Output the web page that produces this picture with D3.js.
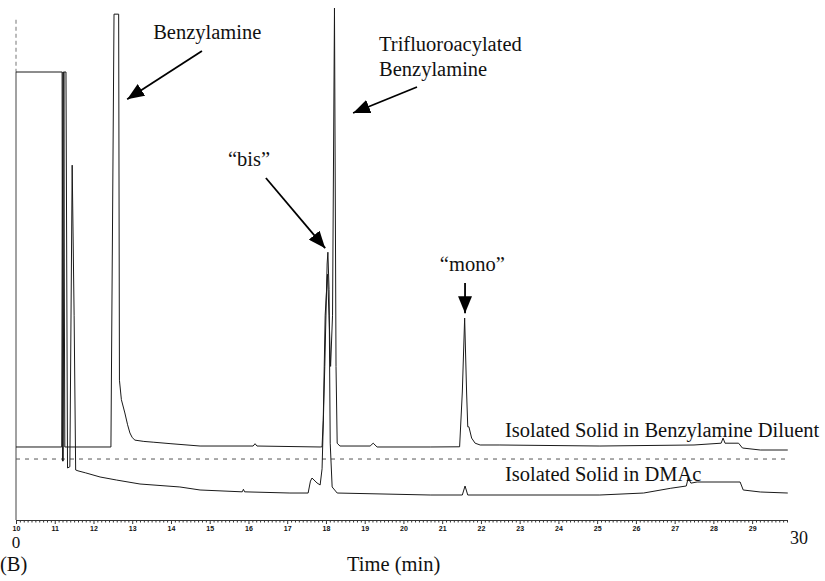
<!DOCTYPE html>
<html>
<head>
<meta charset="utf-8">
<script src="https://cdn.jsdelivr.net/npm/d3@7"></script>
<style>
  body { margin: 0; background: #fff; }
  svg { display: block; }
  .lbl { font-family: "Liberation Serif", "Times New Roman", serif; font-size: 20.5px; fill: #111; }
  .x.axis text { font-family: "Liberation Sans", Arial, sans-serif; font-size: 7px; font-weight: bold; fill: #111; }
  .x.axis path, .x.axis line { stroke: #333; }
  .trace { fill: none; stroke: #1a1a1a; stroke-width: 1; }
</style>
</head>
<body>
<svg width="825" height="581"></svg>
<script>
// tick labels (min)
var timeTicks = [10,11,12,13,14,15,16,17,18,19,20,21,22,23,24,25,26,27,28,29];

// Isolated Solid in Benzylamine Diluent
var diluentTime = [10.00,11.18,11.21,11.23,11.26,12.45,12.53,12.65,12.67,12.72,12.81,12.88,12.94,13.00,13.07,13.30,13.54,14.00,14.75,16.12,16.17,16.22,17.85,17.90,17.93,17.98,18.04,18.08,18.12,18.17,18.22,18.26,18.29,18.36,19.14,19.22,19.32,20.69,21.45,21.52,21.58,21.63,21.66,21.69,21.76,21.85,21.98,22.49,25.07,27.50,28.20,28.25,28.30,28.65,28.75,29.21,29.92];
var diluentSignal = [14.26,14.26,87.5,87.5,14.26,14.26,98.8,98.8,27.3,23.5,20.9,18.6,17.0,16.1,15.6,15.35,15.2,14.9,14.45,14.45,14.9,14.45,14.26,14.3,19.5,40.0,48.0,40.0,30.0,40.0,100,30.0,15.0,14.45,14.45,15.0,14.26,14.26,14.3,25.0,39.45,25.0,18.2,18.2,16.0,15.0,14.65,14.65,14.45,14.65,15.0,16.0,15.0,15.0,14.06,13.67,13.67];

// Isolated Solid in DMAc
var dmacTime = [10.00,11.19,11.20,11.22,11.24,11.29,11.33,11.39,11.45,11.50,11.54,11.60,11.80,12.17,12.60,13.20,14.23,14.75,15.84,15.87,15.90,17.07,17.54,17.60,17.64,17.77,17.85,17.90,17.97,18.03,18.05,18.08,18.11,18.16,18.29,20.69,21.52,21.59,21.66,25.07,26.20,26.90,27.30,27.35,27.42,27.58,28.69,28.77,29.21,29.92];
var dmacSignal = [87.5,87.5,11.52,11.52,87.5,87.5,10.16,10.4,69.3,40.0,9.77,9.6,9.2,8.4,7.8,7.03,6.45,5.86,5.5,6.0,5.5,5.27,5.27,7.6,8.2,7.23,6.84,10.0,30.0,50.0,52.3,45.0,15.0,6.45,5.27,4.88,4.88,6.64,4.88,4.88,5.27,6.2,6.64,8.2,7.2,7.42,7.42,5.86,5.47,5.27];

var svg = d3.select("svg");

var x = d3.scaleLinear().domain([10, 29.9]).range([16, 787]);
var y = d3.scaleLinear().domain([0, 100]).range([520, 8]);

var line = d3.line()
  .x(function(d){ return x(d[0]); })
  .y(function(d){ return y(d[1]); });

function pairs(t, v){ return t.map(function(d,i){ return [d, v[i]]; }); }

// arrow head
svg.append("defs").append("marker")
  .attr("id","head")
  .attr("markerUnits","userSpaceOnUse")
  .attr("markerWidth",18).attr("markerHeight",14)
  .attr("refX",17).attr("refY",7)
  .attr("orient","auto")
  .append("path")
  .attr("d","M0,0 L17,7 L0,14 Z")
  .attr("fill","#000");

// left vertical line (dashed at top)
svg.append("line")
  .attr("x1",x(10)).attr("x2",x(10))
  .attr("y1",y(97.7)).attr("y2",y(87.5))
  .attr("stroke","#777").attr("stroke-dasharray","4,3");
svg.append("line")
  .attr("x1",x(10)).attr("x2",x(10))
  .attr("y1",y(87.5)).attr("y2",y(0))
  .attr("stroke","#444");

// dashed reference line
svg.append("line")
  .attr("x1",x(10)).attr("x2",x(29.9))
  .attr("y1",y(11.91)).attr("y2",y(11.91))
  .attr("stroke","#555")
  .attr("stroke-dasharray","4,5");

// traces
svg.append("path").attr("class","trace")
  .attr("d", line(pairs(dmacTime, dmacSignal)));
svg.append("path").attr("class","trace")
  .attr("d", line(pairs(diluentTime, diluentSignal)));

// x axis
var minor = [];
for (var i = 100; i < 300; i++) { if (i % 10 !== 0) minor.push(i / 10); }

svg.append("g").attr("class","x axis minor")
  .attr("transform","translate(0," + y(0) + ")")
  .call(d3.axisBottom(x).tickValues(minor).tickSize(2.5).tickSizeOuter(0).tickFormat(""));

svg.append("g").attr("class","x axis")
  .attr("transform","translate(0," + y(0) + ")")
  .call(d3.axisBottom(x).tickValues(timeTicks).tickSize(4).tickPadding(2).tickSizeOuter(0).tickFormat(d3.format("d")));

// big axis ends
svg.append("text").attr("class","lbl")
  .attr("x", x(10)).attr("y", 548).attr("text-anchor","middle").style("font-size","17px").text("0");
svg.append("text").attr("class","lbl")
  .attr("x", 790).attr("y", 544).style("font-size","18px").text("30");

svg.append("text").attr("class","lbl").attr("x",0).attr("y",571).text("(B)");
svg.append("text").attr("class","lbl").attr("x",347).attr("y",571).text("Time (min)");

// annotations
function label(t, v, str){
  svg.append("text").attr("class","lbl").attr("x", x(t)).attr("y", y(v)).text(str);
}
function arrow(t1, v1, t2, v2){
  svg.append("line")
    .attr("x1", x(t1)).attr("y1", y(v1))
    .attr("x2", x(t2)).attr("y2", y(v2))
    .attr("stroke","#000").attr("stroke-width",1.8)
    .attr("marker-end","url(#head)");
}

label(13.54, 93.95, "Benzylamine");
arrow(14.80, 91.6, 12.87, 82.2);

label(19.37, 91.6, "Trifluoroacylated");
label(19.37, 86.72, "Benzylamine");
arrow(20.35, 84.57, 18.70, 79.49);

label(15.47, 69.14, "\u201Cbis\u201D");
arrow(16.45, 66.8, 17.98, 53.1);

label(20.94, 48.63, "\u201Cmono\u201D");
arrow(21.59, 46.3, 21.59, 40.4);

label(22.62, 16.21, "Isolated Solid in Benzylamine Diluent");
label(22.62, 7.62, "Isolated Solid in DMAc");
</script>
</body>
</html>
